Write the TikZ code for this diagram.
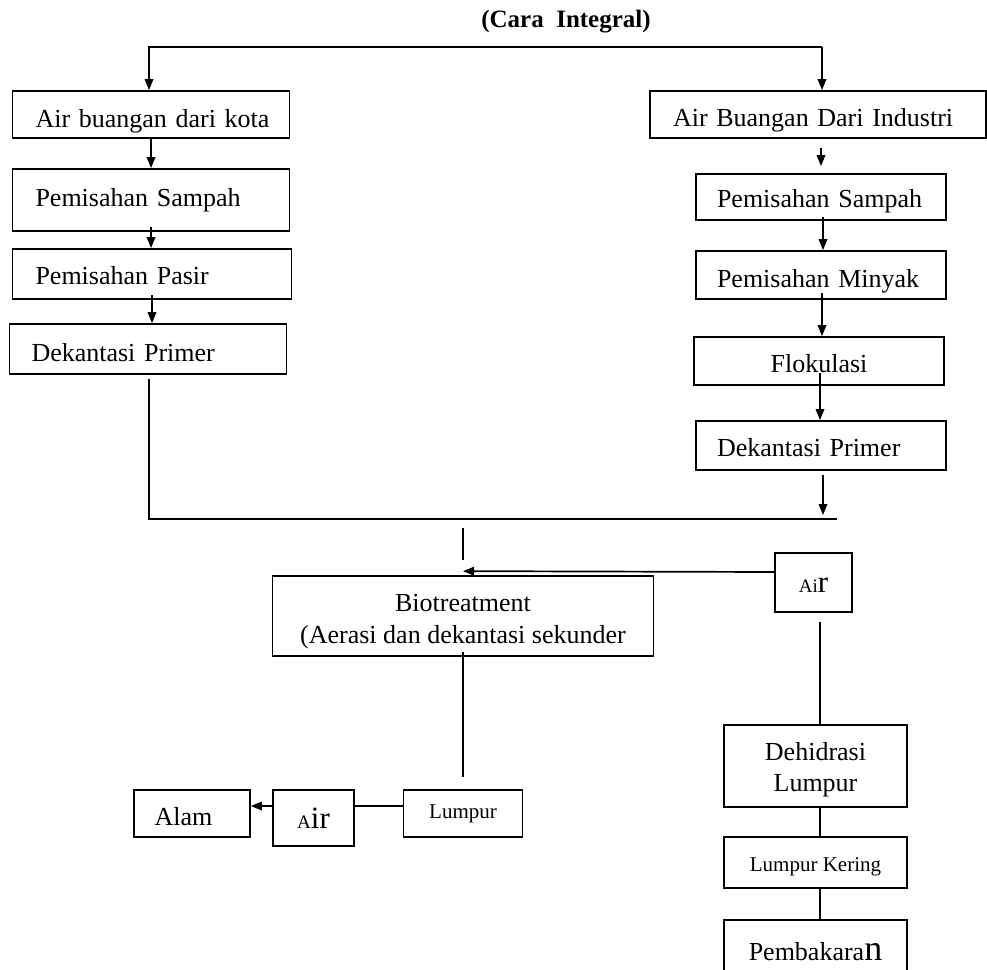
\documentclass[tikz,border=0pt]{standalone}
\usepackage{fontspec}
\setmainfont{Liberation Serif}
\usetikzlibrary{arrows.meta,calc}
\newcommand\lowr[2]{\raisebox{-#1}[\height][\depth]{#2}}
\tikzset{
  bx/.style={draw, line width=1.7pt, inner sep=0pt, font=\fontsize{26}{30}\selectfont},
  ln/.style={line width=1.7pt},
  arr/.style={line width=1.7pt, -{Triangle[length=11pt,width=8.5pt]}},
}
\begin{document}
\begin{tikzpicture}[x=1pt,y=-1pt]
\useasboundingbox (0,0) rectangle (987,969);
% title
\node[font=\bfseries\fontsize{25}{30}\selectfont, inner sep=0pt] (title) at (566,22) {(Cara\ \ Integral)};
% left column
\node[bx, minimum width=277pt, minimum height=47pt, text width=231pt, align=left] (L1) at (151,114.5) {\lowr{6.4pt}{\mbox{Air buangan dari kota}}};
\node[bx, minimum width=277pt, minimum height=62pt, text width=231pt, align=left] (L2) at (151,200) {\mbox{Pemisahan Sampah}};
\node[bx, minimum width=279pt, minimum height=50pt, text width=233pt, align=left] (L3) at (152,274) {\lowr{2pt}{\mbox{Pemisahan Pasir}}};
\node[bx, minimum width=277pt, minimum height=50pt, text width=233pt, align=left] (L4) at (148,349) {\lowr{4pt}{\mbox{Dekantasi Primer}}};
% right column
\node[bx, minimum width=336pt, minimum height=47pt, text width=290pt, align=left] (R1) at (818,114.5) {\lowr{5.4pt}{\mbox{Air Buangan Dari Industri}}};
\node[bx, minimum width=250pt, minimum height=46pt, text width=208pt, align=left] (R2) at (821,197) {\lowr{4pt}{\mbox{Pemisahan Sampah}}};
\node[bx, minimum width=250pt, minimum height=48pt, text width=208pt, align=left] (R3) at (821,275) {\lowr{6pt}{\mbox{Pemisahan Minyak}}};
\node[bx, minimum width=250pt, minimum height=48pt] (R4) at (819,361) {\lowr{3pt}{Flokulasi}};
\node[bx, minimum width=250pt, minimum height=49pt, text width=208pt, align=left] (R5) at (821,445.5) {\lowr{2.6pt}{\mbox{Dekantasi Primer}}};
% middle
\node[bx, minimum width=381pt, minimum height=80pt, font=\fontsize{26}{32}\selectfont] (Bio) at (463,616) {\lowr{4.6pt}{\begin{tabular}{@{}c@{}}Biotreatment\\(Aerasi dan dekantasi sekunder\end{tabular}}};
\node[bx, minimum width=77pt, minimum height=59pt] (AirR) at (813.5,582.5) {\lowr{3pt}{{\fontsize{19}{22}\selectfont Ai}{\fontsize{31}{34}\selectfont r}}};
\node[bx, minimum width=183pt, minimum height=82pt, font=\fontsize{26}{31}\selectfont] (Deh) at (815.5,766) {\lowr{3.3pt}{\begin{tabular}{@{}c@{}}Dehidrasi\\Lumpur\end{tabular}}};
\node[bx, minimum width=183pt, minimum height=51pt, font=\fontsize{21}{25}\selectfont] (LK) at (815.5,862.5) {\lowr{4pt}{Lumpur Kering}};
\node[bx, minimum width=183pt, minimum height=62pt] (Pemb) at (815.5,951) {\lowr{1pt}{Pembakara{\fontsize{36}{40}\selectfont n}}};
% bottom
\node[bx, minimum width=116pt, minimum height=47pt] (Alam) at (192,813.5) {\lowr{2.6pt}{\hspace*{-17pt}Alam}};
\node[bx, minimum width=81pt, minimum height=56pt] (AirB) at (313.5,818) {{\fontsize{19}{22}\selectfont A}{\fontsize{31}{34}\selectfont ir}};
\node[bx, minimum width=119pt, minimum height=47pt, font=\fontsize{21}{25}\selectfont] (Lump) at (463,813.5) {\lowr{0.6pt}{Lumpur}};
% coordinates
\coordinate (tl) at (149,47);
\coordinate (tr) at (822,47);
\coordinate (jl) at (149,519);
\coordinate (jr) at (837,519);
% top connectors
\draw[arr] (tr) -- (tl) -- (tl |- L1.north);
\draw[arr] (tr) -- (tr |- R1.north);
% left chain
\draw[arr] (L1.south) -- (L1.south |- L2.north);
\draw[arr] ([yshift=5pt]L2.south) -- (L2.south |- L3.north);
\draw[arr] ([yshift=5pt]L3.south) -- (L3.south |- L4.north);
\draw[ln] ([yshift=-4pt]L4.south -| jl) -- (jl) -- (jr);
% right chain
\draw[arr] ([yshift=-9pt]R1.south -| R2.north) -- ([yshift=7pt]R2.north);
\draw[arr] ([xshift=2pt,yshift=4pt]R2.south) -- ([xshift=2pt]R3.north);
\draw[arr] ([xshift=1pt,yshift=7pt]R3.south) -- ([xshift=1pt]R3.south |- R4.north);
\draw[arr] ([xshift=1pt,yshift=13pt]R4.south) -- ([xshift=1pt]R4.south |- R5.north);
\draw[arr] ([xshift=2pt,yshift=-4pt]R5.south) -- ([xshift=2pt,yshift=4pt]R5.south |- jr);
% middle
\draw[ln] ([yshift=47pt]Bio.north) -- ([yshift=15pt]Bio.north);
\draw[arr] ([yshift=10.5pt]AirR.west) -- ([yshift=4pt]Bio.north);
\draw[ln] ([xshift=4.5pt,yshift=-9pt]AirR.south -| Deh.north) -- ([xshift=4.5pt]Deh.north);
\draw[ln] ([xshift=4.5pt]Deh.south) -- ([xshift=4.5pt]LK.north);
\draw[ln] ([xshift=4.5pt]LK.south) -- ([xshift=4.5pt]Pemb.north);
\draw[ln] ([yshift=5pt]Bio.south) -- ([yshift=12pt]Lump.north);
\draw[ln] ([yshift=7.5pt]Lump.west) -- ([yshift=7.5pt]Lump.west -| AirB.east);
\draw[arr] ([yshift=12pt]AirB.west) -- ([yshift=12pt]AirB.west -| Alam.east);
\end{tikzpicture}
\end{document}
